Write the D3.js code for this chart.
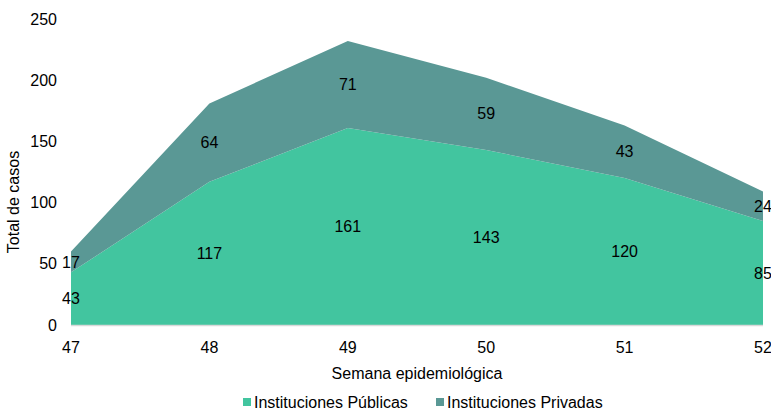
<!DOCTYPE html>
<html>
<head>
<meta charset="utf-8">
<script src="https://d3js.org/d3.v7.min.js"></script>
<style>
body { margin:0; background:#fff; }
text { font-family:"Liberation Sans", Arial, sans-serif; fill:#000; }
</style>
</head>
<body>
<div id="chart"></div>
<script>
var weeks = ["47", "48", "49", "50", "51", "52"];
var publicas = [43, 117, 161, 143, 120, 85];
var privadas = [17, 64, 71, 59, 43, 24];
var yTicks = [0, 50, 100, 150, 200, 250];
var seriesNames = ["Instituciones Públicas", "Instituciones Privadas"];
var colors = ["#42C59F", "#5A9895"];

var W = 771, H = 411;
var margin = {top:19, right:8, bottom:86, left:71};
var w = W - margin.left - margin.right;
var h = H - margin.top - margin.bottom;
var fs = "16px";

var svg = d3.select("#chart").append("svg")
    .attr("width", W)
    .attr("height", H);

var g = svg.append("g")
    .attr("transform", "translate(" + margin.left + "," + margin.top + ")");

var x = d3.scalePoint().domain(weeks).range([0, w]);
var y = d3.scaleLinear().domain([0, 250]).range([h, 0]);

var rows = weeks.map(function(wk, i){
    return {week: wk, pub: publicas[i], priv: privadas[i]};
});
var stack = d3.stack().keys(["pub", "priv"]);
var layers = stack(rows);

var area = d3.area()
    .x(function(d){ return x(d.data.week); })
    .y0(function(d){ return y(d[0]); })
    .y1(function(d){ return y(d[1]); });

g.selectAll(".layer")
    .data(layers)
    .enter().append("path")
    .attr("class", "layer")
    .attr("d", area)
    .style("fill", function(d, i){ return colors[i]; });

// baseline
g.append("line")
    .attr("x1", 0).attr("x2", w)
    .attr("y1", y(0) + 0.5).attr("y2", y(0) + 0.5)
    .style("stroke", "#d9d9d9")
    .style("stroke-width", 1.5);

// data labels
layers.forEach(function(layer){
    g.selectAll(null)
        .data(layer)
        .enter().append("text")
        .attr("x", function(d){ return x(d.data.week); })
        .attr("y", function(d){ return y((d[0] + d[1]) / 2); })
        .attr("dy", "0.35em")
        .attr("text-anchor", "middle")
        .style("font-size", fs)
        .text(function(d){ return d[1] - d[0]; });
});

// y axis labels
g.selectAll(".ytick")
    .data(yTicks)
    .enter().append("text")
    .attr("class", "ytick")
    .attr("x", -14)
    .attr("y", function(d){ return y(d); })
    .attr("dy", "0.35em")
    .attr("text-anchor", "end")
    .style("font-size", fs)
    .text(function(d){ return d; });

// x axis labels
g.selectAll(".xtick")
    .data(weeks)
    .enter().append("text")
    .attr("class", "xtick")
    .attr("x", function(d){ return x(d); })
    .attr("y", h + 22)
    .attr("dy", "0.35em")
    .attr("text-anchor", "middle")
    .style("font-size", fs)
    .text(function(d){ return d; });

// axis titles
svg.append("text")
    .attr("x", 417)
    .attr("y", 373)
    .attr("dy", "0.35em")
    .attr("text-anchor", "middle")
    .style("font-size", fs)
    .text("Semana epidemiológica");

svg.append("text")
    .attr("transform", "translate(13,202) rotate(-90)")
    .attr("dy", "0.35em")
    .attr("text-anchor", "middle")
    .style("font-size", fs)
    .text("Total de casos");

// legend
var legendX = [243, 436];
var legend = svg.selectAll(".legend")
    .data(seriesNames)
    .enter().append("g")
    .attr("class", "legend")
    .attr("transform", function(d, i){ return "translate(" + legendX[i] + ",402)"; });

legend.append("rect")
    .attr("x", 0).attr("y", -4)
    .attr("width", 8).attr("height", 8)
    .style("fill", function(d, i){ return colors[i]; });

legend.append("text")
    .attr("x", 11)
    .attr("dy", "0.35em")
    .style("font-size", fs)
    .text(function(d){ return d; });
</script>
</body>
</html>
